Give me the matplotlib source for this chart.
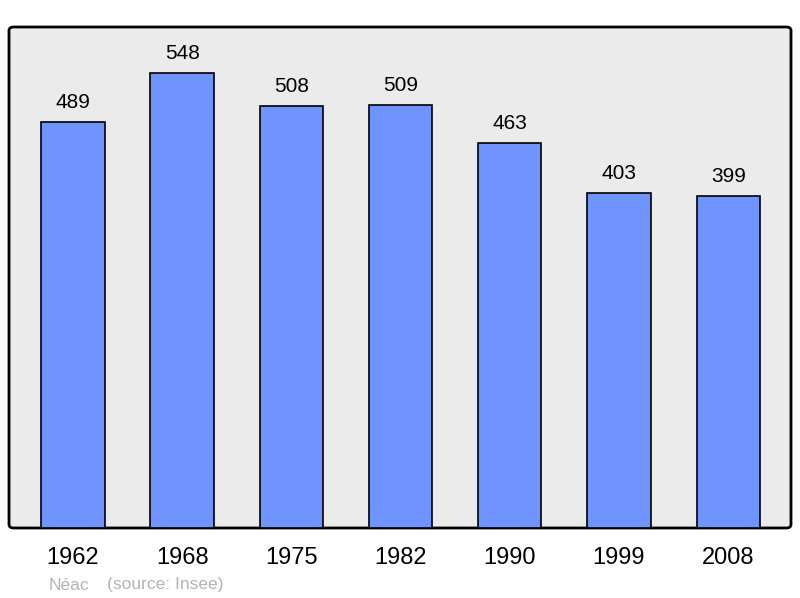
import matplotlib.pyplot as plt
from matplotlib.patches import FancyBboxPatch

years = ['1962', '1968', '1975', '1982', '1990', '1999', '2008']
population = [489, 548, 508, 509, 463, 403, 399]
commune = 'Néac'
source = '(source: Insee)'

plt.rcParams['font.family'] = ['Liberation Sans', 'DejaVu Sans']

W, H = 800, 598
fig = plt.figure(figsize=(W / 100, H / 100), dpi=100)

# panel in pixel coords: left 9, top 27, right 791, bottom 528
left, top, right, bottom = 9, 27, 791, 528
panel = FancyBboxPatch((left / W, 1 - bottom / H), (right - left) / W, (bottom - top) / H,
                       boxstyle='round,pad=0,rounding_size=0.006',
                       transform=fig.transFigure, facecolor='#ebebeb',
                       edgecolor='black', linewidth=2, zorder=-5)
fig.patches.append(panel)

ax = fig.add_axes([left / W, 1 - bottom / H, (right - left) / W, (bottom - top) / H])
ax.set_zorder(2)
ax.patch.set_alpha(0)
for s in ax.spines.values():
    s.set_visible(False)

x = range(len(years))
bars = ax.bar(x, population, width=0.58, color='#7094ff', edgecolor='black',
              linewidth=1.2, zorder=2)
for xi, v in zip(x, population):
    ax.annotate(str(v), (xi, v), xytext=(0, 10), textcoords='offset points',
                ha='center', va='baseline', fontsize=15, color='black')

ax.set_xlim(-0.585, 6.575)
ax.set_ylim(0, max(population) * 1.1)
ax.set_yticks([])
ax.set_xticks(list(x))
ax.set_xticklabels(years, fontsize=17)
ax.tick_params(axis='x', length=0, pad=14)

fig.text(49 / W, 1 - 585 / H, commune, fontsize=12.5, color='#b3b3b3', va='center', ha='left')
fig.text(107 / W, 1 - 585 / H, source, fontsize=12.5, color='#b3b3b3', va='center', ha='left')

fig.savefig('out.png', dpi=100)
